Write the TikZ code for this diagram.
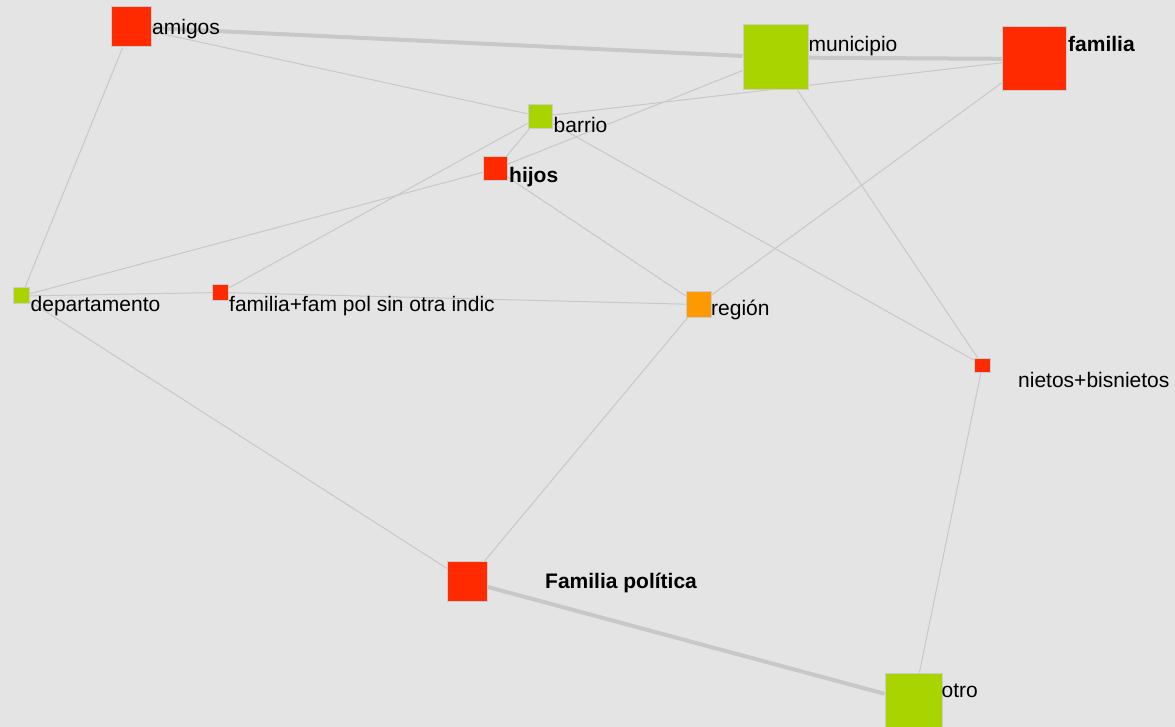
\documentclass[tikz,border=0pt]{standalone}
\usepackage{fontspec}
\setmainfont{Liberation Sans}
\usepackage{xcolor}
\usetikzlibrary{backgrounds}
\definecolor{paper}{HTML}{E4E4E4}
\definecolor{linkgray}{HTML}{C8C8C8}
\definecolor{framegray}{HTML}{CCCCCC}
\definecolor{nodered}{HTML}{FF2A00}
\definecolor{nodegreen}{HTML}{AAD400}
\definecolor{nodeorange}{HTML}{FF9900}

\begin{document}
\begin{tikzpicture}[x=1pt,y=-1pt,
	sq/.style={draw=framegray,line width=1pt,inner sep=0pt,minimum size=#1},
	lbl/.style={anchor=base west,inner sep=0pt,font=\fontsize{21}{25}\selectfont},
	link/.style={draw=linkgray,line width=1pt},
	heavy link/.style={draw=linkgray,line width=4pt}]
\useasboundingbox (0,0) rectangle (1175,727);
% squares
\node [sq=40,fill=nodered] (amigos) at (131,27) {};
\node [sq=65,fill=nodegreen] (municipio) at (775.5,57.5) {};
\node [sq=64,fill=nodered] (familia) at (1034.5,59) {};
\node [sq=24,fill=nodegreen] (barrio) at (540,116.5) {};
\node [sq=24,fill=nodered] (hijos) at (495.5,169) {};
\node [sq=16,fill=nodegreen] (depto) at (21.5,296) {};
\node [sq=16,fill=nodered] (fampol) at (220.5,292.5) {};
\node [sq=25,fill=nodeorange] (region) at (698.5,304.5) {};
\node [sq=16,minimum height=14,fill=nodered] (nietos) at (982.5,365) {};
\node [sq=40,fill=nodered] (fpolitica) at (467.5,581.5) {};
\node [sq=57,fill=nodegreen] (otro) at (913.5,701.5) {};
% labels
\node [lbl] (amigos-lbl) at (152,34.5) {amigos};
\node [lbl] (municipio-lbl) at (808.5,52) {municipio};
\node [lbl,font=\fontsize{21}{25}\selectfont\bfseries] (familia-lbl) at (1068,52) {familia};
\node [lbl] (barrio-lbl) at (553.5,133) {barrio};
\node [lbl,font=\fontsize{21}{25}\selectfont\bfseries] (hijos-lbl) at (509,183) {hijos};
\node [lbl] (depto-lbl) at (30.5,312) {departamento};
\node [lbl] (fampol-lbl) at (229,312) {familia+fam pol sin otra indic};
\node [lbl] (region-lbl) at (711,316) {región};
\node [lbl] (nietos-lbl) at (1018,387) {nietos+bisnietos};
\node [lbl,font=\fontsize{21}{25}\selectfont\bfseries] (fpolitica-lbl) at (545,588.5) {Familia política};
\node [lbl] (otro-lbl) at (941.5,697.5) {otro};

\begin{pgfonlayer}{background}
\fill [paper] (0,0) rectangle (1175,727);
\draw [heavy link] (amigos) -- (municipio);
\draw [heavy link] (municipio) -- (familia);
\draw [heavy link] (fpolitica) -- (otro);
\draw [link] (amigos) -- (barrio);
\draw [link] (amigos) -- (depto);
\draw [link] (barrio) -- (familia);
\draw [link] (barrio) -- (fampol);
\draw [link] (barrio) -- (hijos);
\draw [link] (barrio) -- (nietos);
\draw [link] (municipio) -- (hijos);
\draw [link] (municipio) -- (nietos);
\draw [link] (hijos) -- (depto);
\draw [link] (hijos) -- (region);
\draw [link] (depto) -- (fampol);
\draw [link] (fampol) -- (region);
\draw [link] (familia) -- (region);
\draw [link] (depto) -- (fpolitica);
\draw [link] (region) -- (fpolitica);
\draw [link] (nietos) -- (otro);
\end{pgfonlayer}
\end{tikzpicture}
\end{document}
